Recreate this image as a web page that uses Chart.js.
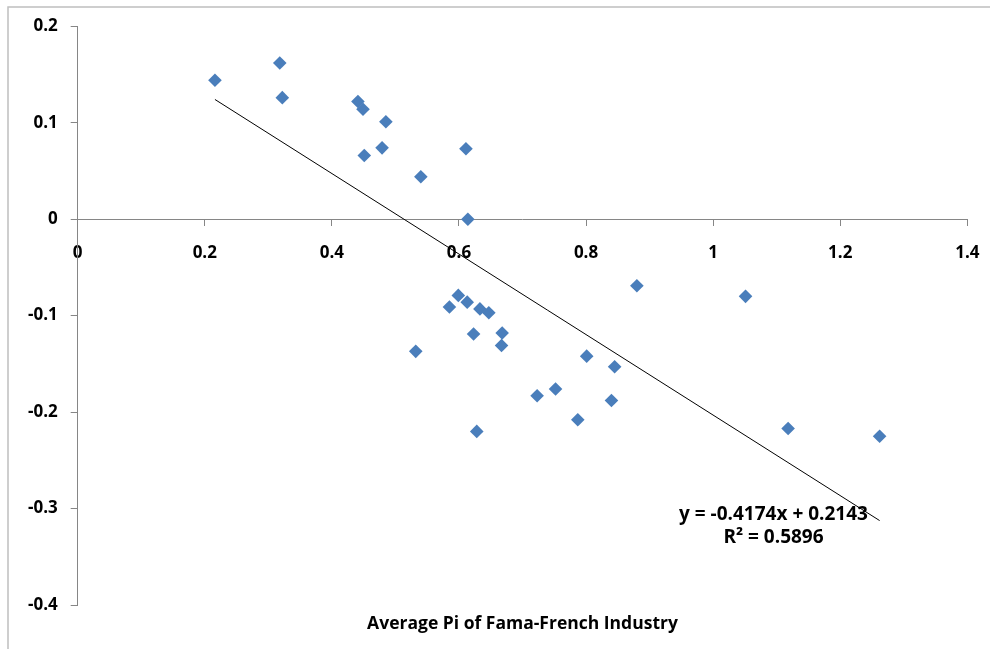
<!DOCTYPE html>
<html>
<head>
<meta charset="utf-8">
<script src="https://cdn.jsdelivr.net/npm/chart.js@4.4.0/dist/chart.umd.min.js"></script>
<style>
  html, body { margin: 0; padding: 0; background: #fff; }
  #wrap { width: 990px; height: 649px; position: relative; }
</style>
</head>
<body>
<div id="wrap"><canvas id="scatterChart"></canvas></div>
<script>
// Average Pi per industry (x) vs. outcome (y)
const piValues = [
  0.216, 0.318, 0.322, 0.441, 0.449, 0.485, 0.451, 0.479, 0.540, 0.611, 0.614,
  0.599, 0.585, 0.613, 0.633, 0.647, 0.623, 0.668, 0.667, 0.532, 0.801, 0.845,
  0.752, 0.723, 0.840, 0.787, 0.628, 0.880, 1.051, 1.118, 1.262
];
const yValues = [
  0.144, 0.162, 0.126, 0.122, 0.114, 0.101, 0.066, 0.074, 0.044, 0.073, 0.000,
  -0.079, -0.091, -0.086, -0.093, -0.097, -0.119, -0.118, -0.131, -0.137, -0.142, -0.153,
  -0.176, -0.183, -0.188, -0.208, -0.220, -0.069, -0.080, -0.217, -0.225
];

// Linear trendline as shown in the chart
const trendSlope = -0.4174;
const trendIntercept = 0.2143;
const trendLabel = 'y = -0.4174x + 0.2143';
const r2Label = 'R\u00b2 = 0.5896';

const xTitle = 'Average Pi of Fama-French Industry';

const FONT = "'Open Sans', 'Noto Sans', sans-serif";
const AXIS_GRAY = '#868686';
const MARKER_BLUE = '#4a7ebb';

const points = piValues.map((x, i) => ({ x: x, y: yValues[i] }));
const xMin = Math.min(...piValues);
const xMax = Math.max(...piValues);
const trendPoints = [xMin, xMax].map(x => ({ x: x, y: trendSlope * x + trendIntercept }));

// frame + trendline text
const extrasPlugin = {
  id: 'extras',
  beforeDraw(chart) {
    const ctx = chart.ctx;
    ctx.save();
    ctx.fillStyle = '#fff';
    ctx.fillRect(0, 0, chart.width, chart.height);
    ctx.strokeStyle = '#bfbfbf';
    ctx.lineWidth = 1.5;
    ctx.strokeRect(8, 7, chart.width + 20, chart.height + 20);
    ctx.restore();
  },
  afterDatasetsDraw(chart) {
    const ctx = chart.ctx;
    const xs = chart.scales.x, ys = chart.scales.y;
    ctx.save();
    ctx.fillStyle = '#000';
    ctx.font = `bold 19px ${FONT}`;
    ctx.textAlign = 'center';
    ctx.textBaseline = 'middle';
    ctx.fillText(trendLabel, xs.getPixelForValue(1.095), ys.getPixelForValue(-0.3064));
    ctx.fillText(r2Label, xs.getPixelForValue(1.095), ys.getPixelForValue(-0.3300));
    ctx.restore();
  }
};

new Chart(document.getElementById('scatterChart'), {
  type: 'scatter',
  data: {
    datasets: [
      {
        label: 'Industries',
        data: points,
        pointStyle: 'rectRot',
        pointRadius: 6.8,
        pointHoverRadius: 6.8,
        backgroundColor: MARKER_BLUE,
        borderColor: MARKER_BLUE,
        borderWidth: 0
      },
      {
        type: 'line',
        label: 'Linear trend',
        data: trendPoints,
        borderColor: '#000',
        borderWidth: 1,
        pointRadius: 0,
        fill: false
      }
    ]
  },
  options: {
    responsive: true,
    maintainAspectRatio: false,
    animation: false,
    layout: {
      padding: { left: 8, right: 22.7, top: 26.3, bottom: 0 }
    },
    plugins: {
      legend: { display: false },
      tooltip: { enabled: false },
      title: {
        display: true,
        position: 'bottom',
        fullSize: false,
        text: xTitle,
        color: '#000',
        font: { family: FONT, size: 17.5, weight: 'bold' },
        padding: { top: 9, bottom: 14 }
      }
    },
    scales: {
      x: {
        type: 'linear',
        min: 0,
        max: 1.4,
        position: { y: 0 },
        afterFit(scale) {
          scale.height = 0;
          scale.paddingLeft = 0;
          scale.paddingRight = 0;
        },
        grid: {
          drawOnChartArea: false,
          tickLength: 6,
          color: AXIS_GRAY
        },
        border: { color: AXIS_GRAY, width: 1 },
        ticks: {
          stepSize: 0.2,
          color: '#000',
          padding: 18,
          maxRotation: 0,
          font: { family: FONT, size: 17, weight: 'bold' },
          callback: v => String(Number(v.toFixed(1)))
        }
      },
      y: {
        type: 'linear',
        min: -0.4,
        max: 0.2,
        afterFit(scale) {
          scale.width = 69.7;
          scale.paddingTop = 0;
          scale.paddingBottom = 0;
        },
        grid: {
          drawOnChartArea: false,
          tickLength: 7,
          color: AXIS_GRAY
        },
        border: { color: AXIS_GRAY, width: 1 },
        ticks: {
          stepSize: 0.1,
          color: '#000',
          padding: 13,
          font: { family: FONT, size: 17, weight: 'bold' },
          callback: v => String(Number(v.toFixed(1)))
        }
      }
    }
  },
  plugins: [extrasPlugin]
});
</script>
</body>
</html>
